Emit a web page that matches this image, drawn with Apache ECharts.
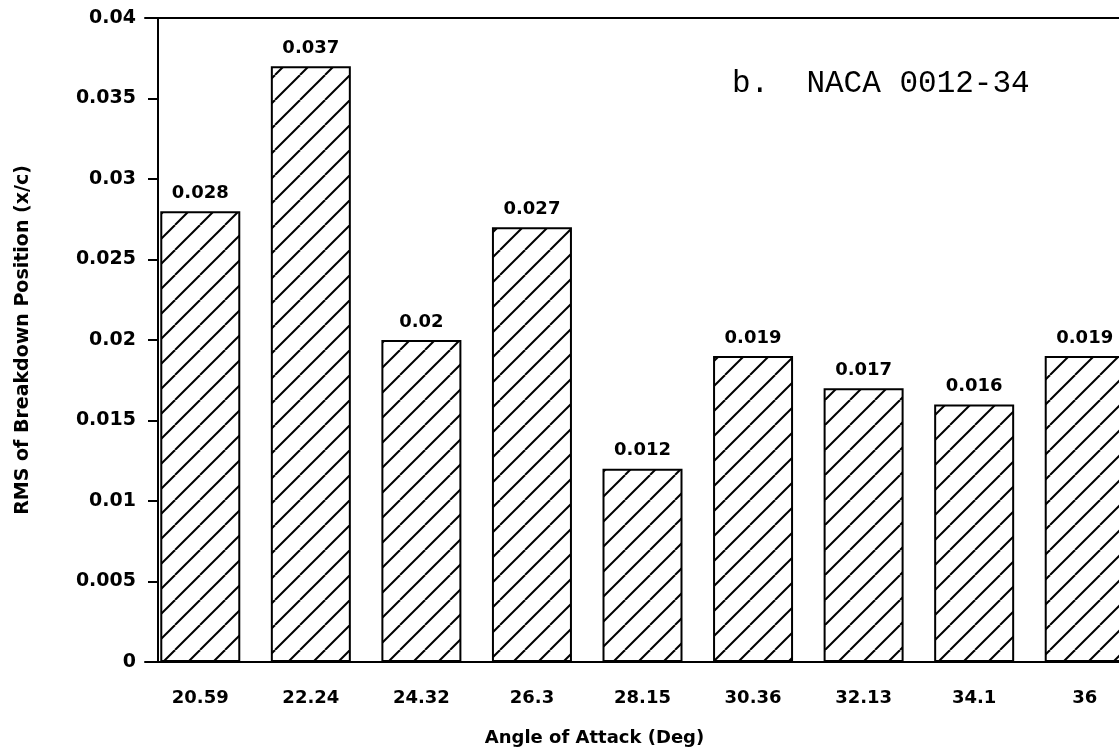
<!DOCTYPE html>
<html>
<head>
<meta charset="utf-8">
<script src="https://cdn.jsdelivr.net/npm/echarts@6/dist/echarts.min.js"></script>
<style>
  html, body { margin: 0; padding: 0; background: #fff; }
  #chart { width: 1119px; height: 755px; }
</style>
</head>
<body>
<div id="chart"></div>
<script>
const angles = ['20.59', '22.24', '24.32', '26.3', '28.15', '30.36', '32.13', '34.1', '36']
const rmsValues = [0.028, 0.037, 0.02, 0.027, 0.012, 0.019, 0.017, 0.016, 0.019]
const yTicks = { min: 0, max: 0.04, interval: 0.005 }

// hatch tile: "/" lines
function makeHatch() {
  const s = 25
  const c = document.createElement('canvas')
  c.width = s
  c.height = s
  const ctx = c.getContext('2d')
  ctx.fillStyle = '#fff'
  ctx.fillRect(0, 0, s, s)
  ctx.strokeStyle = '#000'
  ctx.lineWidth = 2
  for (const k of [-s, 0, s]) {
    ctx.beginPath()
    ctx.moveTo(k, s)
    ctx.lineTo(k + s, 0)
    ctx.stroke()
  }
  return c
}

const chart = echarts.init(document.getElementById('chart'))
const numFont = { fontFamily: 'DejaVu Sans', fontWeight: 'bold', fontSize: 18, color: '#000' }

const option = {
  animation: false,
  backgroundColor: '#fff',
  grid: { left: 145, top: 18, width: 995, height: 644, outerBoundsMode: 'none' },
  xAxis: [
    {
      type: 'category',
      data: angles,
      name: 'Angle of Attack (Deg)',
      nameLocation: 'middle',
      nameGap: 67,
      nameMoveOverlap: false,
      nameTextStyle: { fontFamily: 'DejaVu Sans', fontWeight: 'bold', fontSize: 18, color: '#000', padding: [0, 96, 0, 0] },
      axisLine: { lineStyle: { color: '#000', width: 2 } },
      axisTick: { alignWithLabel: true, length: 10, lineStyle: { color: '#000', width: 2 } },
      axisLabel: Object.assign({ margin: 27 }, numFont)
    },
    {
      type: 'category',
      data: angles,
      position: 'top',
      axisLine: { lineStyle: { color: '#000', width: 2 } },
      axisTick: { show: false },
      axisLabel: { show: false }
    }
  ],
  yAxis: {
    type: 'value',
    min: yTicks.min,
    max: yTicks.max,
    interval: yTicks.interval,
    offset: -13,
    name: 'RMS of Breakdown Position (x/c)',
    nameLocation: 'middle',
    nameGap: 125,
    nameMoveOverlap: false,
    nameTextStyle: { fontFamily: 'DejaVu Sans', fontWeight: 'bold', fontSize: 19, color: '#000' },
    splitLine: { show: false },
    axisLine: { show: true, lineStyle: { color: '#000', width: 2 } },
    axisTick: { show: true, length: 10, lineStyle: { color: '#000', width: 2 } },
    axisLabel: Object.assign({}, numFont, { margin: 22, fontSize: 19 })
  },
  series: [{
    type: 'bar',
    data: rmsValues,
    barWidth: 80,
    itemStyle: {
      color: { image: makeHatch(), repeat: 'repeat' },
      borderColor: '#000',
      borderWidth: 2
    },
    label: Object.assign({ show: true, position: 'top', distance: 9 }, numFont)
  }],
  graphic: [{
    type: 'text',
    left: 732,
    top: 68,
    style: {
      text: 'b.  NACA 0012-34',
      fontFamily: 'Liberation Mono',
      fontSize: 31,
      fill: '#000'
    }
  }]
}
chart.setOption(option)
</script>
</body>
</html>
